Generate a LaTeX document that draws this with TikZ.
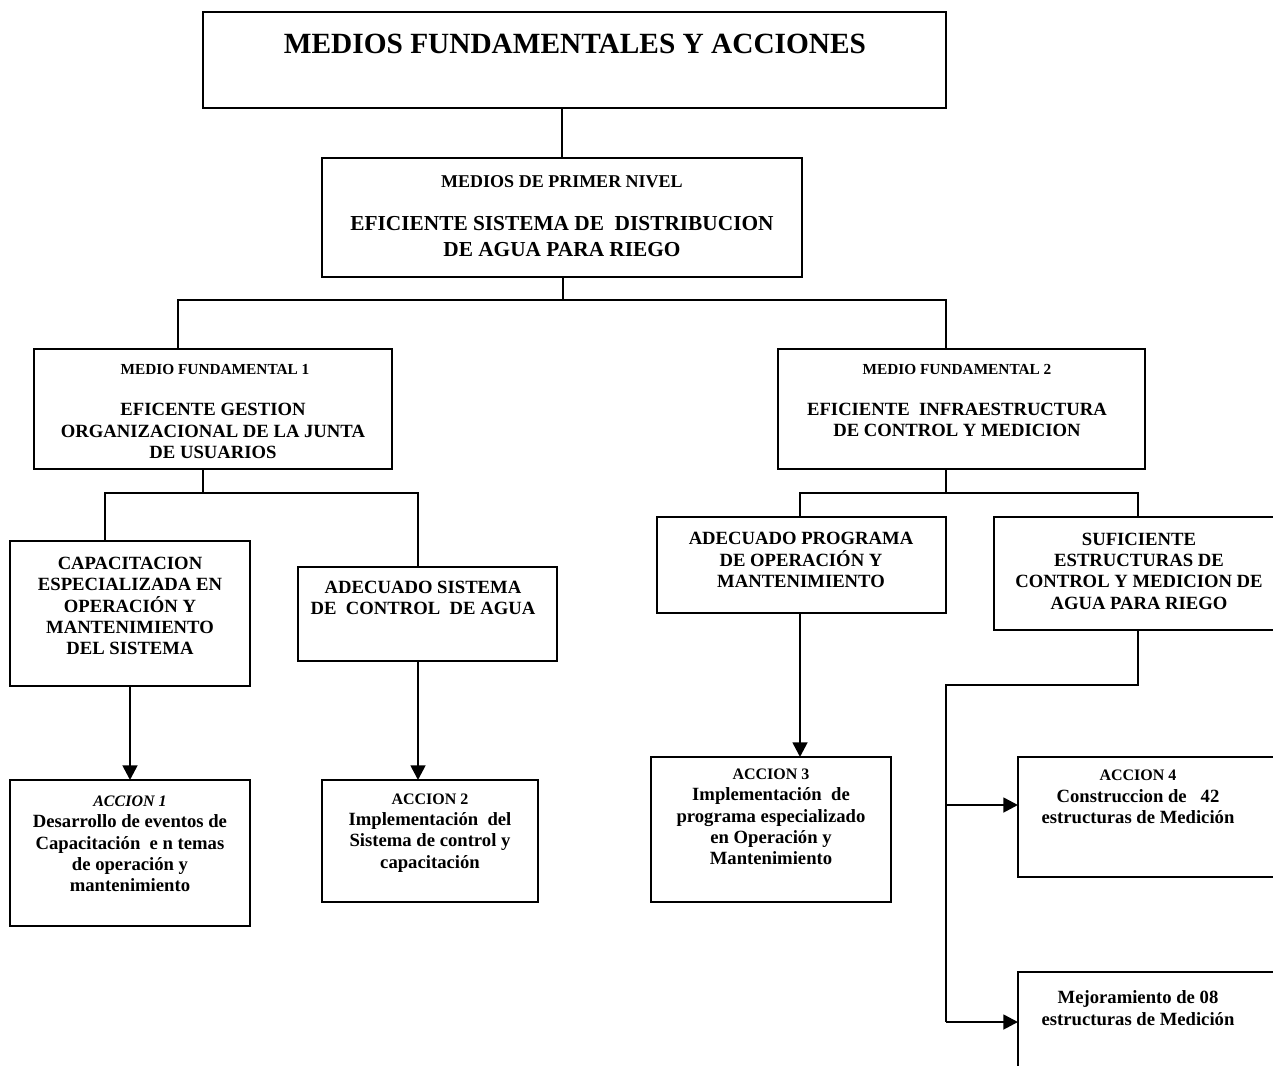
\documentclass[tikz,border=0pt]{standalone}
\usepackage{fontspec}
\setmainfont{Liberation Serif}
\usetikzlibrary{arrows.meta}
\newdimen\px
\px=0.75pt
\begin{document}
\begin{tikzpicture}[x=0.75pt,y=-0.75pt,
  box/.style={draw,line width=1.4pt,rectangle,inner sep=0pt,outer sep=0pt,anchor=north west},
  txt/.style={align=center,inner sep=0pt,font=\bfseries\fontsize{14}{16}\selectfont},
  hdr/.style={align=center,inner sep=0pt,font=\bfseries\fontsize{11.5}{14}\selectfont},
  conn/.style={line width=1.3pt},
  arr/.style={line width=2pt,-{Triangle[length=11pt,width=11pt]}}]
\useasboundingbox (0,0) rectangle (1273,1065);
\clip (0,0) rectangle (1273,1065);
% boxes
\node[box,minimum width=743\px,minimum height=96\px] (title) at (203,12) {};
\node[box,minimum width=480\px,minimum height=119\px] (p1) at (322,158) {};
\node[box,minimum width=358\px,minimum height=120\px] (mf1) at (34,349) {};
\node[box,minimum width=367\px,minimum height=120\px] (mf2) at (778,349) {};
\node[box,minimum width=240\px,minimum height=145\px] (cap) at (10,541) {};
\node[box,minimum width=259\px,minimum height=94\px] (ads) at (298,567) {};
\node[box,minimum width=289\px,minimum height=96\px] (adp) at (657,517) {};
\node[box,minimum width=290\px,minimum height=113\px] (suf) at (994,517) {};
\node[box,minimum width=240\px,minimum height=146\px] (a1) at (10,780) {};
\node[box,minimum width=216\px,minimum height=122\px] (a2) at (322,780) {};
\node[box,minimum width=240\px,minimum height=145\px] (a3) at (651,757) {};
\node[box,minimum width=290\px,minimum height=120\px] (a4) at (1018,757) {};
\node[box,minimum width=290\px,minimum height=140\px] (a5) at (1018,972) {};
% texts
\node[align=center,inner sep=0pt,font=\bfseries\fontsize{22}{26}\selectfont] (ttitle) at (575,44) {MEDIOS FUNDAMENTALES Y ACCIONES};
\node[txt,font=\bfseries\fontsize{13.5}{16}\selectfont] (tp1h) at (562,182) {MEDIOS DE PRIMER NIVEL};
\node[txt,font=\bfseries\fontsize{16}{19.5}\selectfont] (tp1) at (562,237) {EFICIENTE SISTEMA DE\ \ DISTRIBUCION\\DE AGUA PARA RIEGO};
\node[hdr] (tmf1h) at (215,369) {MEDIO FUNDAMENTAL 1};
\node[txt] (tmf1) at (213,431) {EFICENTE GESTION\\ORGANIZACIONAL DE LA JUNTA\\DE USUARIOS};
\node[hdr] (tmf2h) at (957,369) {MEDIO FUNDAMENTAL 2};
\node[txt] (tmf2) at (957,420) {EFICIENTE\ \ INFRAESTRUCTURA\\DE CONTROL Y MEDICION};
\node[txt] (tcap) at (130,606) {CAPACITACION\\ESPECIALIZADA EN\\OPERACIÓN Y\\MANTENIMIENTO\\DEL SISTEMA};
\node[txt] (tads) at (423,598) {ADECUADO SISTEMA\\DE\ \ CONTROL\ \ DE AGUA};
\node[txt] (tadp) at (801,560) {ADECUADO PROGRAMA\\DE OPERACIÓN Y\\MANTENIMIENTO};
\node[txt] (tsuf) at (1139,571) {SUFICIENTE\\ESTRUCTURAS DE\\CONTROL Y MEDICION DE\\AGUA PARA RIEGO};
\node[txt] (ta1) at (130,844) {{\fontsize{12}{16}\selectfont\itshape ACCION 1}\\Desarrollo de eventos de\\Capacitación\ \ e n temas\\de operación y\\mantenimiento};
\node[txt] (ta2) at (430,833) {{\fontsize{12}{16}\selectfont ACCION 2}\\Implementación\ \ del\\Sistema de control y\\capacitación};
\node[txt] (ta3) at (771,817) {{\fontsize{12}{16}\selectfont ACCION 3}\\Implementación\ \ de\\programa especializado\\en Operación y\\Mantenimiento};
\node[txt] (ta4) at (1138,797) {{\fontsize{12}{16}\selectfont ACCION 4}\\Construccion de\ \ \ 42\\estructuras de Medición};
\node[txt] (ta5) at (1138,1008) {Mejoramiento de 08\\estructuras de Medición};
% bus coordinates
\coordinate (b1) at (563,300);
\coordinate (b1l) at (178,300);
\coordinate (b1r) at (946,300);
\coordinate (b2) at (203,493);
\coordinate (b2l) at (105,493);
\coordinate (b2r) at (418,493);
\coordinate (b3) at (946,493);
\coordinate (b3l) at (800,493);
\coordinate (b3r) at (1138,493);
\coordinate (b4) at (1138,685);
\coordinate (b4l) at (946,685);
\coordinate (b4m) at (946,805);
\coordinate (b4b) at (946,1022);
% connectors
\draw[conn] (title.south -| p1.north) -- (p1.north);
\draw[conn] (p1.south -| b1) -- (b1);
\draw[conn] (mf1.north -| b1l) -- (b1l) -- (b1r) -- (mf2.north -| b1r);
\draw[conn] (mf1.south -| b2) -- (b2);
\draw[conn] (cap.north -| b2l) -- (b2l) -- (b2r) -- (ads.north -| b2r);
\draw[conn] (mf2.south -| b3) -- (b3);
\draw[conn] (adp.north -| b3l) -- (b3l) -- (b3r) -- (suf.north -| b3r);
\draw[arr] (cap.south -| 130,0) -- (a1.north -| 130,0);
\draw[arr] (ads.south -| b2r) -- (a2.north -| b2r);
\draw[arr] (adp.south -| b3l) -- (a3.north -| b3l);
\draw[conn] (suf.south -| b4) -- (b4) -- (b4l) -- (b4b);
\draw[arr] (b4m) -- (b4m -| a4.west);
\draw[arr] (b4b) -- (b4b -| a5.west);
\end{tikzpicture}
\end{document}
